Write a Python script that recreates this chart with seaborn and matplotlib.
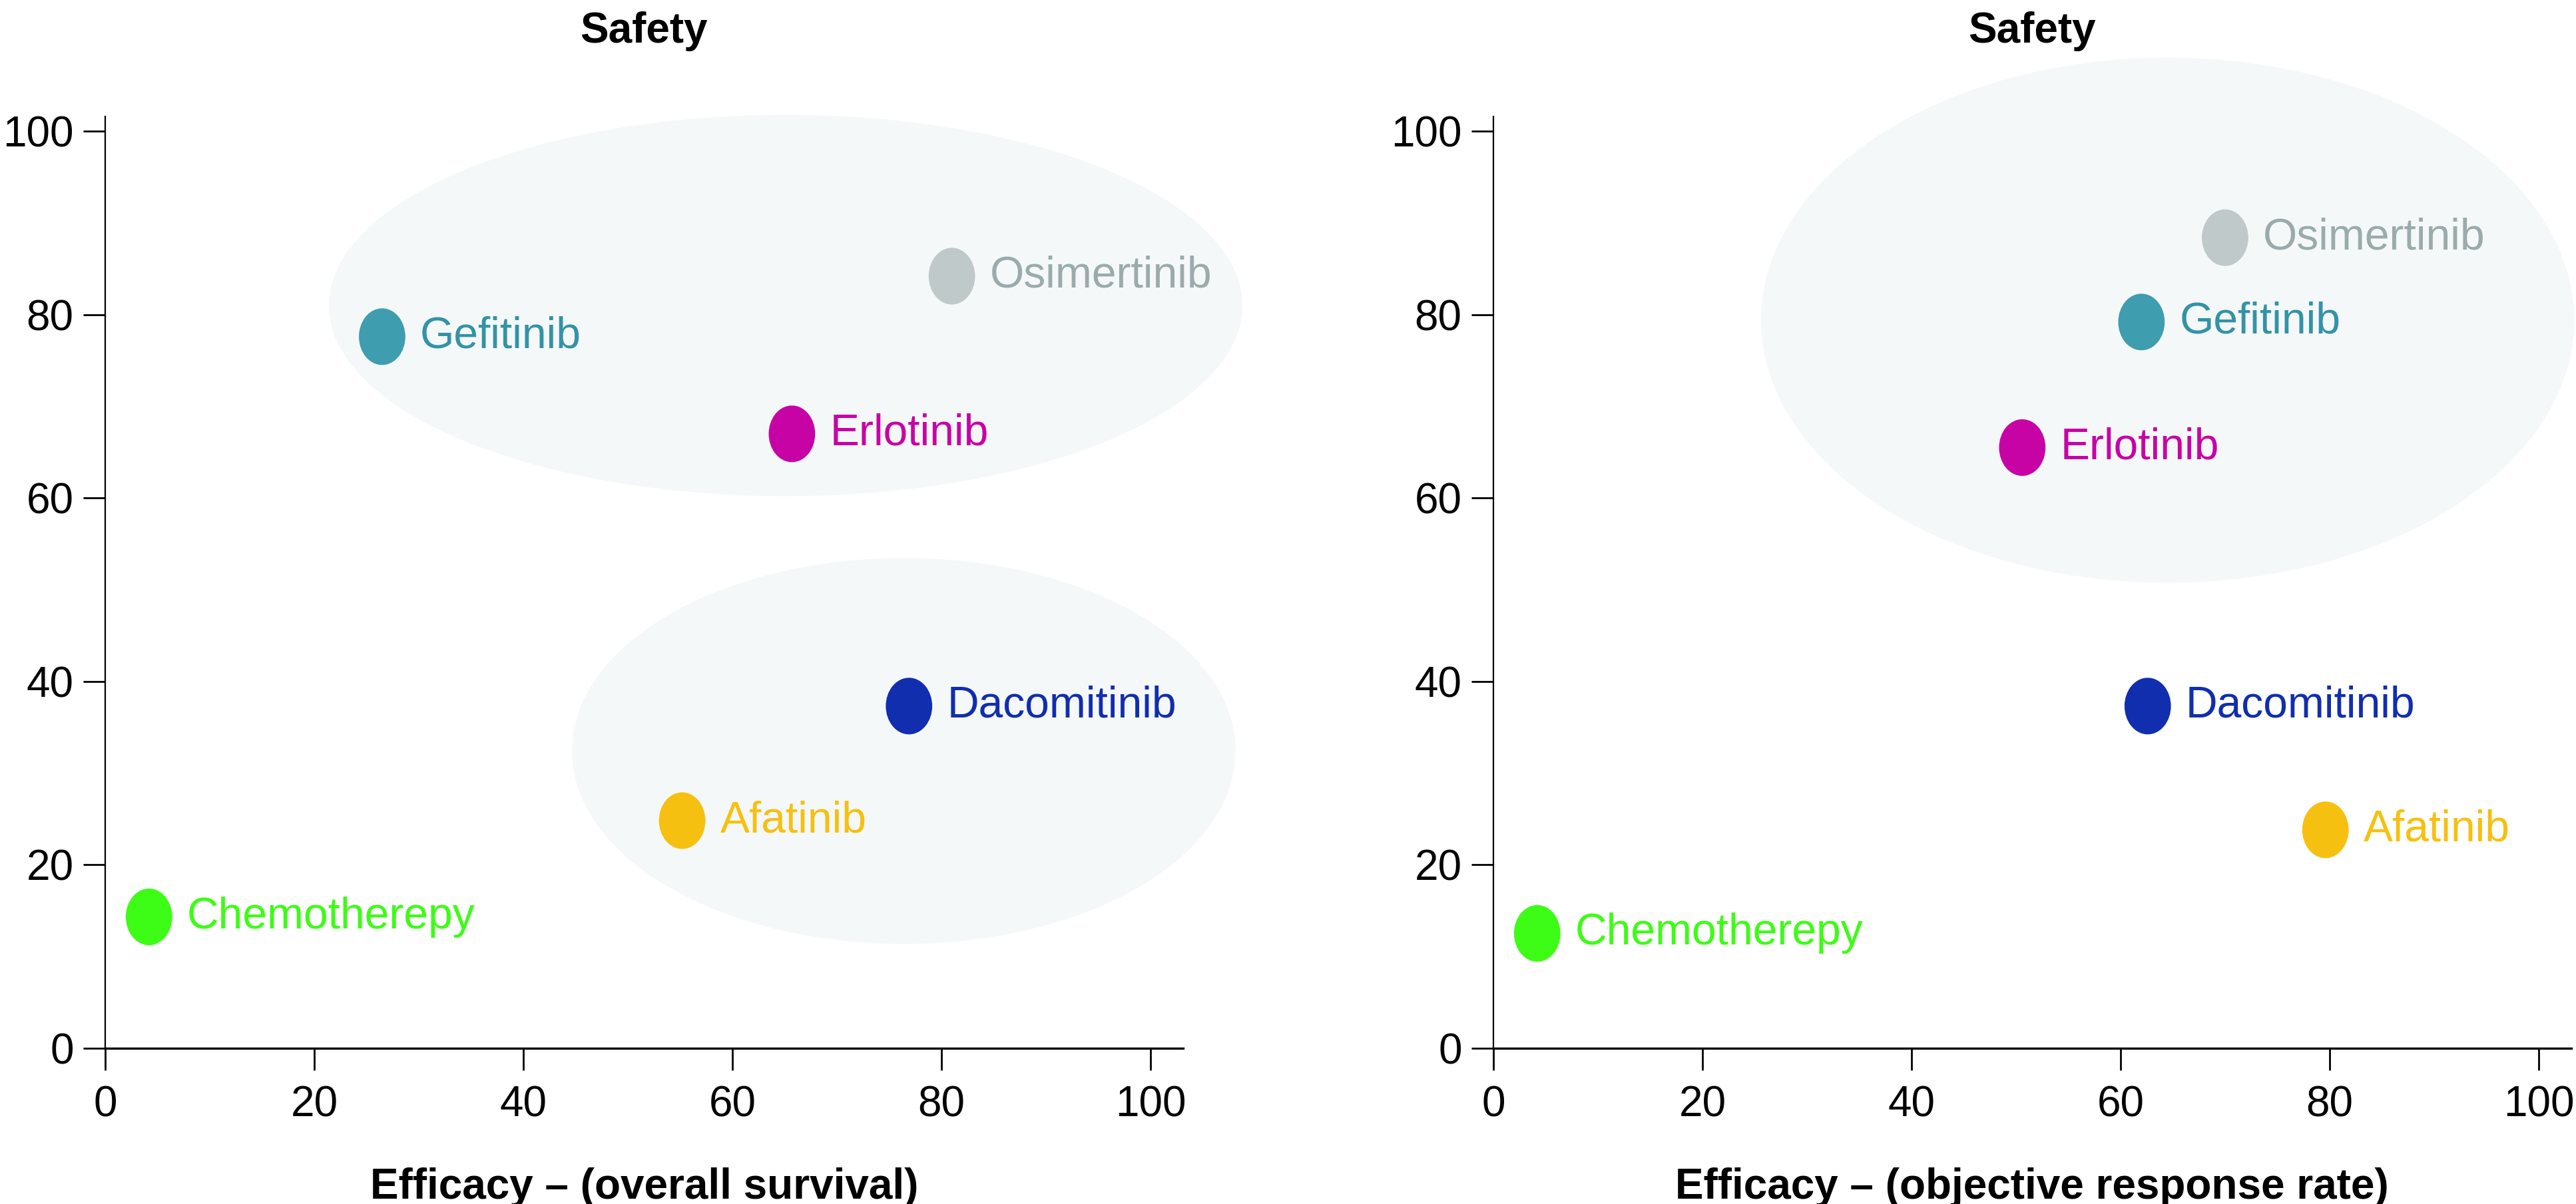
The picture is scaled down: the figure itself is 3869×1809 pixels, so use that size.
"""Safety vs efficacy bubble map for EGFR-TKIs, two panels (OS and ORR)."""
import matplotlib

matplotlib.use("Agg")
import matplotlib.pyplot as plt
import numpy as np
import pandas as pd
import seaborn as sns
from matplotlib.markers import MarkerStyle
from matplotlib.patches import Ellipse
from matplotlib.path import Path

# ------------------------------------------------------------------ #
# Data
# ------------------------------------------------------------------ #
drugs = ["Gefitinib", "Osimertinib", "Erlotinib", "Dacomitinib",
         "Afatinib", "Chemotherepy"]

os_efficacy = [26.5, 81.0, 65.7, 76.9, 55.2, 4.2]
os_safety = [77.6, 84.2, 67.0, 37.3, 24.8, 14.3]

orr_efficacy = [62.0, 70.0, 50.6, 62.6, 79.6, 4.2]
orr_safety = [79.2, 88.4, 65.5, 37.3, 23.8, 12.5]

marker_colors = ["#3e9dae", "#bfc9ca", "#c703a5", "#112eaf",
                 "#f6c010", "#3dfc16"]
text_colors = ["#3393a6", "#9aabab", "#c703a5", "#112eaf",
               "#f6c010", "#3dfc16"]

# grouping halos (centre x, centre y, width, height) in data units
os_groups = [(65.1, 81.0, 87.4, 41.6), (76.4, 32.4, 63.5, 42.1)]
orr_groups = [(64.5, 79.4, 77.8, 57.3)]

ticks = [0, 20, 40, 60, 80, 100]

sns.set_style("white")
plt.rcParams["font.family"] = ["Liberation Sans", "DejaVu Sans"]
plt.rcParams["text.color"] = "black"

# slightly tall oval marker like the original
circle = Path.unit_circle()
oval = MarkerStyle(Path(circle.vertices * np.array([0.82, 1.0]), circle.codes))

fig = plt.figure(figsize=(38.69, 18.09), dpi=100)
ax_l = fig.add_axes([0.0408, 0.1296, 0.4184, 0.7735])
ax_r = fig.add_axes([0.5797, 0.1296, 0.4184, 0.7735])

panels = [
    (ax_l, os_efficacy, os_safety, os_groups, "Efficacy \u2013 (overall survival)"),
    (ax_r, orr_efficacy, orr_safety, orr_groups,
     "Efficacy \u2013 (objective response rate)"),
]

for ax, xs, ys, groups, xlabel in panels:
    df = pd.DataFrame({"drug": drugs, "efficacy": xs, "safety": ys})

    for cx, cy, w, h in groups:
        ax.add_patch(Ellipse((cx, cy), w, h, facecolor="#f5f8f9",
                             edgecolor="none", zorder=0, clip_on=False))

    sns.scatterplot(
        data=df, x="efficacy", y="safety", hue="drug",
        palette=dict(zip(drugs, marker_colors)), marker=oval,
        s=3750, linewidth=0, legend=False, ax=ax, zorder=3, clip_on=False,
    )

    for name, x, y, col in zip(drugs, xs, ys, text_colors):
        ax.annotate(name, (x, y), xytext=(41, 0), textcoords="offset points",
                    ha="left", va="center", fontsize=47.5, color=col, zorder=4)

    ax.set_xlim(0, 103.1)
    ax.set_ylim(0, 101.6)
    ax.set_xticks(ticks)
    ax.set_yticks(ticks)
    ax.tick_params(axis="both", direction="out", length=24, width=2,
                   labelsize=46, color="black", labelcolor="black",
                   bottom=True, left=True)
    ax.tick_params(axis="x", pad=16)
    ax.tick_params(axis="y", pad=10)
    sns.despine(ax=ax)
    ax.spines["bottom"].set_linewidth(2.4)
    ax.spines["left"].set_linewidth(1.6)
    ax.spines["bottom"].set_color("black")
    ax.spines["left"].set_color("black")
    ax.set_facecolor("none")

    ax.set_title("Safety", fontsize=46, fontweight="bold", pad=80,
                 color="black")
    ax.set_xlabel(xlabel, fontsize=46, fontweight="bold", labelpad=46,
                  color="black")
    ax.set_ylabel("")

fig.savefig("out.png", dpi=100, facecolor="white")
